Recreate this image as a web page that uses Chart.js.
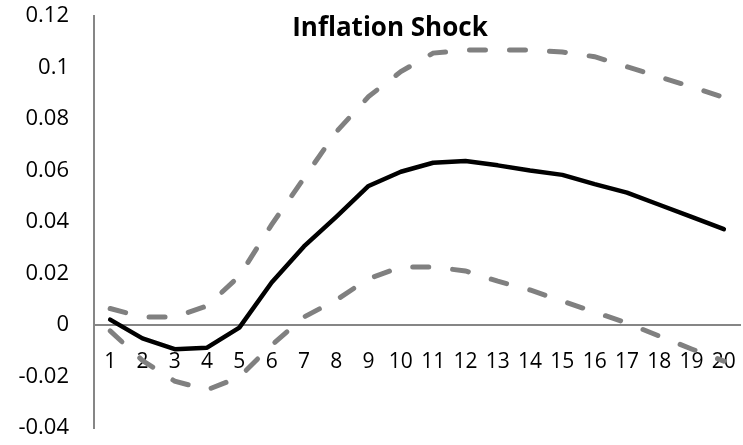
<!DOCTYPE html>
<html>
<head>
<meta charset="utf-8">
<script src="https://cdn.jsdelivr.net/npm/chart.js@4"></script>
<style>
  html, body { margin: 0; padding: 0; background: #fff; }
  #wrap { width: 743px; height: 445px; }
</style>
</head>
<body>
<div id="wrap"><canvas id="chart"></canvas></div>
<script>
// periods after the shock
const periods = ['1','2','3','4','5','6','7','8','9','10','11','12','13','14','15','16','17','18','19','20'];
// impulse response (solid) and bands (dashed)
const response = [0.0021, -0.0052, -0.0094, -0.0088, -0.001, 0.0165, 0.0305, 0.042, 0.054, 0.0595,
                  0.063, 0.0637, 0.062, 0.060, 0.0583, 0.0547, 0.0514, 0.0467, 0.042, 0.0372];
const upper = [0.0064, 0.0031, 0.0031, 0.0074, 0.019, 0.039, 0.057, 0.075, 0.0887, 0.0984,
               0.1056, 0.1068, 0.1068, 0.1068, 0.106, 0.1042, 0.1003, 0.0964, 0.0925, 0.0884];
const lower = [-0.0023, -0.0138, -0.0218, -0.0252, -0.0202, -0.0078, 0.0031, 0.0097, 0.018, 0.0225,
               0.0225, 0.021, 0.017, 0.0136, 0.0093, 0.005, 0.0008, -0.0043, -0.0093, -0.014];
const yTicks = [-0.04, -0.02, 0, 0.02, 0.04, 0.06, 0.08, 0.1, 0.12];

const axisGrey = '#868686';
const bandGrey = '#808080';
const font = "'Open Sans', 'Liberation Sans', sans-serif";

// title sits inside the plot area like the Excel original
const titlePlugin = {
    id: 'overlayTitle',
    afterDraw(chart) {
        const ctx = chart.ctx;
        ctx.save();
        ctx.font = 'bold 26px ' + font;
        ctx.fillStyle = '#000';
        ctx.textAlign = 'center';
        ctx.textBaseline = 'middle';
        ctx.fillText('Inflation Shock', 390, 29);
        ctx.restore();
    }
};

const bandStyle = {
    borderColor: bandGrey,
    borderWidth: 5,
    borderDash: [16, 24],
    borderCapStyle: 'round',
    pointRadius: 0,
    tension: 0,
    fill: false
};

new Chart(document.getElementById('chart').getContext('2d'), {
    type: 'line',
    data: {
        labels: periods,
        datasets: [
            Object.assign({ label: 'Upper', data: upper }, bandStyle),
            Object.assign({ label: 'Lower', data: lower }, bandStyle),
            {
                label: 'Response',
                data: response,
                borderColor: '#000',
                borderWidth: 4.5,
                borderCapStyle: 'round',
                borderJoinStyle: 'round',
                pointRadius: 0,
                tension: 0,
                fill: false
            }
        ]
    },
    options: {
        responsive: true,
        maintainAspectRatio: false,
        animation: false,
        layout: { padding: { left: 0, right: 3, top: 16, bottom: 17 } },
        plugins: {
            legend: { display: false },
            title: { display: false },
            tooltip: { enabled: false }
        },
        scales: {
            x: {
                position: { y: 0 },
                offset: true,
                afterFit(scale) {
                    scale.paddingLeft = 0;
                    scale.paddingRight = 0;
                },
                grid: { display: false, drawTicks: false },
                border: { display: true, color: axisGrey, width: 2 },
                ticks: {
                    color: '#000',
                    font: { family: font, size: 21 },
                    padding: 24,
                    maxRotation: 0,
                    autoSkip: false
                }
            },
            y: {
                min: yTicks[0],
                max: yTicks[yTicks.length - 1],
                afterBuildTicks(scale) {
                    scale.ticks = yTicks.map(v => ({ value: v }));
                },
                afterFit(scale) {
                    scale.width = 94;
                    scale.paddingTop = 0;
                    scale.paddingBottom = 0;
                },
                grid: { display: false, drawTicks: false },
                border: { display: true, color: axisGrey, width: 2 },
                ticks: {
                    color: '#000',
                    font: { family: font, size: 22 },
                    padding: 25,
                    callback: v => String(parseFloat(Number(v).toFixed(2)))
                }
            }
        }
    },
    plugins: [titlePlugin]
});
</script>
</body>
</html>
